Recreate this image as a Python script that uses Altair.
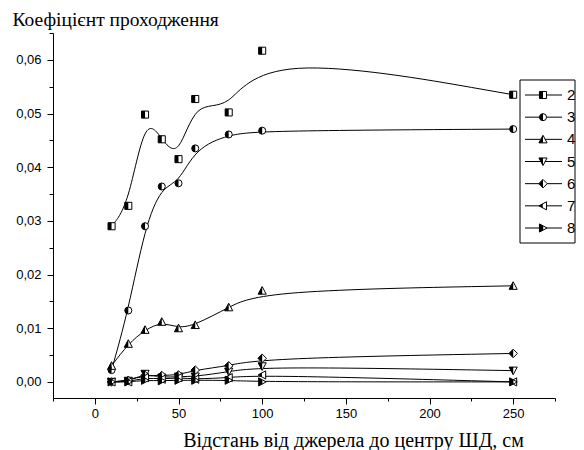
import altair as alt
import pandas as pd

# ---- data ----
x_cm = [10, 20, 30, 40, 50, 60, 80, 100, 250]
s2 = [0.0290, 0.0328, 0.0498, 0.0452, 0.0415, 0.0527, 0.0502, 0.0617, 0.0535]
s3 = [0.0022, 0.0133, 0.0290, 0.0364, 0.0370, 0.0435, 0.0461, 0.0468, 0.0471]
s4 = [0.0030, 0.0071, 0.0097, 0.0112, 0.0100, 0.0106, 0.0139, 0.0170, 0.0179]
s5 = [0.0000, 0.0002, 0.0015, 0.0008, 0.0010, 0.0010, 0.0019, 0.0029, 0.0021]
s6 = [0.0000, 0.0003, 0.0012, 0.0012, 0.0013, 0.0022, 0.0030, 0.0044, 0.0053]
s7 = [0.0000, 0.0000, 0.0008, 0.0005, 0.0008, 0.0005, 0.0008, 0.0013, 0.0000]
s8 = [0.0000, 0.0000, 0.0003, 0.0002, 0.0003, 0.0003, 0.0003, 0.0000, 0.0000]
series_labels = ["2", "3", "4", "5", "6", "7", "8"]
series_values = [s2, s3, s4, s5, s6, s7, s8]

y_major = [0.00, 0.01, 0.02, 0.03, 0.04, 0.05, 0.06]
y_minor = [0.005, 0.015, 0.025, 0.035, 0.045, 0.055, 0.065]
x_major = [0, 50, 100, 150, 200, 250]
x_minor = [-25, 25, 75, 125, 175, 225, 275]

x_title = "Відстань від джерела до центру ШД, см"
y_title = "Коефіцієнт проходження"

# half-filled Origin-style symbols: outline shape + left half in black
full_paths = [
    "M-1,-1H1V1H-1Z",                 # square
    "circle",                          # circle
    "M0,-1.15L1.15,1H-1.15Z",          # triangle up
    "M-1.15,-1H1.15L0,1.15Z",          # triangle down
    "M0,-1.2L1.2,0L0,1.2L-1.2,0Z",     # diamond
    "M-1.15,0L1,-1.15V1.15Z",          # triangle left
    "M-1,-1.15L1.15,0L-1,1.15Z",       # triangle right
]
half_paths = [
    "M-1,-1H0V1H-1Z",
    "M0,-1A1,1 0 0,0 0,1Z",
    "M0,-1.15L0,1H-1.15Z",
    "M-1.15,-1H0V1.15Z",
    "M0,-1.2V1.2L-1.2,0Z",
    "M-1.15,0L-0.07,-0.62V0.62Z",
    "M-1,-1.15L0.07,-0.57V0.57L-1,1.15Z",
]

rows = []
for lab, vals in zip(series_labels, series_values):
    for xv, yv in zip(x_cm, vals):
        rows.append({"series": lab, "x": xv, "y": yv})
df = pd.DataFrame(rows)
leg = pd.DataFrame({"series": series_labels})

W, H = 502, 365
xs = alt.Scale(domain=[-25, 275], nice=False, zero=False)
ys = alt.Scale(domain=[-0.003, 0.065], nice=False, zero=False)
shape_full = alt.Scale(domain=series_labels, range=full_paths)
shape_half = alt.Scale(domain=series_labels, range=half_paths)

label_font = "Liberation Sans"
title_font = "Liberation Serif"

x_axis_major = alt.Axis(
    values=x_major, orient="bottom", tickSize=6, labelPadding=3,
    labelFont=label_font, labelFontSize=13, labelColor="black",
    domainColor="black", tickColor="black", grid=False,
    title=x_title, titleFont=title_font, titleFontSize=20,
    titleFontWeight="normal", titleColor="black",
    titleX=300, titleY=48, titleAlign="center", titleBaseline="alphabetic",
)
x_axis_minor = alt.Axis(
    values=x_minor, orient="bottom", tickSize=3, labels=False,
    domain=False, tickColor="black", grid=False, title="",
)
y_axis_major = alt.Axis(
    values=y_major, orient="left", tickSize=6, labelPadding=6,
    labelExpr="replace(format(datum.value, '.2f'), '.', ',')",
    labelFont=label_font, labelFontSize=13, labelColor="black",
    domainColor="black", tickColor="black", grid=False,
    title=y_title, titleFont=title_font, titleFontSize=19.5,
    titleFontWeight="normal", titleColor="black", titleAngle=0,
    titleX=-41, titleY=-8, titleAlign="left", titleBaseline="alphabetic",
)
y_axis_minor = alt.Axis(
    values=y_minor, orient="left", tickSize=4, labels=False,
    domain=False, tickColor="black", grid=False, title="",
)

base = alt.Chart(df)

lines = base.mark_line(interpolate="basis", color="black", strokeWidth=1).encode(
    x=alt.X("x:Q", scale=xs, axis=x_axis_minor),
    y=alt.Y("y:Q", scale=ys, axis=y_axis_minor),
    detail="series:N",
)
pts_full = base.mark_point(
    filled=True, fill="white", stroke="black", strokeWidth=1, size=50, opacity=1
).encode(
    x=alt.X("x:Q", scale=xs, axis=x_axis_major),
    y=alt.Y("y:Q", scale=ys, axis=y_axis_major),
    shape=alt.Shape("series:N", scale=shape_full, legend=None),
)
pts_half = base.mark_point(
    filled=True, fill="black", strokeWidth=0, size=50, opacity=1
).encode(
    x=alt.X("x:Q", scale=xs, axis=None),
    y=alt.Y("y:Q", scale=ys, axis=None),
    shape=alt.Shape("series:N", scale=shape_half, legend=None),
)

# ---- legend box ----
ly = alt.Y("series:N", scale=alt.Scale(type="point", domain=series_labels,
                                        range=[62, 195], padding=0), axis=None)
leg_box = alt.Chart(pd.DataFrame({"k": [0]})).mark_rect(
    fill="white", stroke="black", strokeWidth=1
).encode(x=alt.value(467), x2=alt.value(522), y=alt.value(47), y2=alt.value(210))
leg_line = alt.Chart(leg).mark_rule(color="black", strokeWidth=1).encode(
    x=alt.value(472), x2=alt.value(509), y=ly)
leg_full = alt.Chart(leg).mark_point(
    filled=True, fill="white", stroke="black", strokeWidth=1, size=50, opacity=1
).encode(x=alt.value(490), y=ly,
         shape=alt.Shape("series:N", scale=shape_full, legend=None))
leg_half = alt.Chart(leg).mark_point(
    filled=True, fill="black", strokeWidth=0, size=50, opacity=1
).encode(x=alt.value(490), y=ly,
         shape=alt.Shape("series:N", scale=shape_half, legend=None))
leg_text = alt.Chart(leg).mark_text(
    align="left", baseline="middle", font=label_font, fontSize=15, color="black"
).encode(x=alt.value(514), y=ly, text="series:N")

chart = alt.layer(
    lines, pts_full, pts_half, leg_box, leg_line, leg_full, leg_half, leg_text
).resolve_scale(
    x="independent", y="independent", shape="independent"
).properties(
    width=W, height=H,
    autosize=alt.AutoSizeParams(type="none"),
    padding={"left": 45, "top": 25, "right": 21, "bottom": 52},
    background="white",
).configure_view(stroke=None)

chart.save("out.html", embed_options={"renderer": "svg", "actions": False})
